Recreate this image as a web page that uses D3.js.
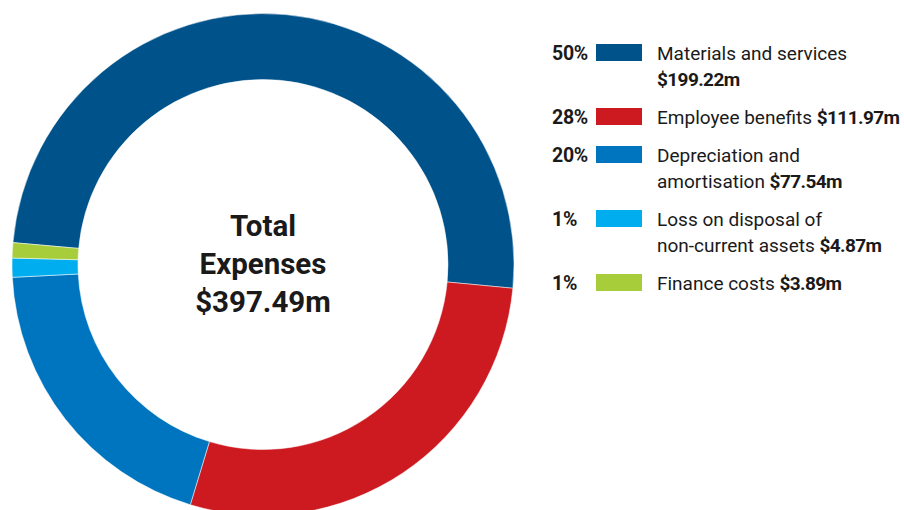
<!DOCTYPE html>
<html>
<head>
<meta charset="utf-8">
<script src="https://cdn.jsdelivr.net/npm/d3@7"></script>
<style>
  html, body { margin: 0; padding: 0; background: #fff; }
  svg { display: block; }
  text { font-family: Roboto, "Liberation Sans", sans-serif; fill: #1a1a1a; }
</style>
</head>
<body>
<svg id="chart" width="904" height="510"></svg>
<script>
// Expense categories, in drawing order (clockwise)
const categories = [
  "Materials and services",
  "Employee benefits",
  "Depreciation and amortisation",
  "Loss on disposal of non-current assets",
  "Finance costs"
];
// Amounts in $ millions
const values = [199.22, 111.97, 77.54, 4.87, 3.89];
const colors = ["#00528a", "#cd1920", "#0075bf", "#00aeef", "#a8cd3a"];
// How each legend label wraps; the amount is appended to the last line
const labelLines = [
  ["Materials and services", ""],
  ["Employee benefits"],
  ["Depreciation and", "amortisation"],
  ["Loss on disposal of", "non-current assets"],
  ["Finance costs"]
];
const centerLines = ["Total", "Expenses"];

const total = d3.sum(values);
const svg = d3.select("#chart");

// ---- donut ----
const cx = 263, cy = 264.5;
const start = -85 * Math.PI / 180;
const pie = d3.pie().sort(null).startAngle(start).endAngle(start + 2 * Math.PI);
const arc = d3.arc().innerRadius(185).outerRadius(251);
const data = values.map((v, i) => ({ name: categories[i], value: v, color: colors[i] }));

const g = svg.append("g").attr("transform", `translate(${cx},${cy})`);
g.selectAll("path")
  .data(pie.value(d => d.value)(data))
  .join("path")
  .attr("d", arc)
  .attr("fill", d => d.data.color)
  .attr("stroke", "#fff")
  .attr("stroke-width", 0.5);

// ---- centre label ----
const centre = centerLines.concat(["$" + total.toFixed(2) + "m"]);
g.selectAll("text.centre")
  .data(centre)
  .join("text")
  .attr("class", "centre")
  .attr("x", 0)
  .attr("y", (d, i) => -29 + i * 38.3)
  .attr("text-anchor", "middle")
  .style("font-weight", 700)
  .style("font-size", "29.5px")
  .text(d => d);

// ---- legend ----
const pctX = 552, swX = 596, swW = 46, swH = 17, txtX = 657;
const lineH = 26, itemGap = 38;
const fmtPct = v => Math.round(v / total * 100) + "%";
const fmtAmt = v => "$" + v.toFixed(2) + "m";

let y = 60;
const legend = svg.append("g");
data.forEach((d, i) => {
  const item = legend.append("g");
  item.append("text")
    .attr("x", pctX).attr("y", y)
    .style("font-weight", 700).style("font-size", "19.5px")
    .style("letter-spacing", "-0.3px")
    .text(fmtPct(d.value));
  item.append("rect")
    .attr("x", swX).attr("y", y - 16).attr("width", swW).attr("height", swH)
    .attr("fill", d.color);
  const lines = labelLines[i];
  lines.forEach((ln, j) => {
    const t = item.append("text")
      .attr("x", txtX).attr("y", y + j * lineH)
      .style("font-size", "19px");
    const last = j === lines.length - 1;
    if (ln) t.append("tspan").text(last ? ln + " " : ln);
    if (last) t.append("tspan")
      .style("font-weight", 700)
      .style("letter-spacing", "-0.6px")
      .text(fmtAmt(d.value));
  });
  y += (lines.length - 1) * lineH + itemGap;
});
</script>
</body>
</html>
